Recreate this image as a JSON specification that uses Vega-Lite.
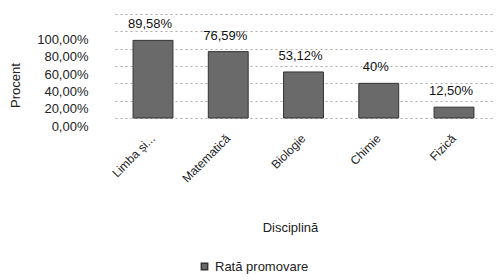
{
  "$schema": "https://vega.github.io/schema/vega-lite/v6.json",
  "width": 377,
  "height": 104,
  "autosize": "none",
  "padding": {"left": 115, "top": 14, "right": 11, "bottom": 162},
  "background": "white",
  "config": {
    "view": {"stroke": null},
    "font": "Liberation Sans",
    "text": {"font": "Liberation Sans"}
  },
  "data": {
    "values": [
      {"disciplina": "Limba și...", "rata": 0.8958, "eticheta": "89,58%", "serie": "Rată promovare"},
      {"disciplina": "Matematică", "rata": 0.7659, "eticheta": "76,59%", "serie": "Rată promovare"},
      {"disciplina": "Biologie", "rata": 0.5312, "eticheta": "53,12%", "serie": "Rată promovare"},
      {"disciplina": "Chimie", "rata": 0.40, "eticheta": "40%", "serie": "Rată promovare"},
      {"disciplina": "Fizică", "rata": 0.125, "eticheta": "12,50%", "serie": "Rată promovare"}
    ]
  },
  "encoding": {
    "x": {
      "field": "disciplina",
      "type": "nominal",
      "sort": null,
      "scale": {"paddingInner": 0.47, "paddingOuter": 0.24},
      "axis": {
        "title": "Disciplină",
        "titleFont": "Liberation Sans",
        "titleFontSize": 13,
        "titleFontWeight": "normal",
        "titleColor": "#222",
        "titleX": 175,
        "titleY": 109,
        "titleAlign": "center",
        "titleBaseline": "middle",
        "labelAngle": -45,
        "labelAlign": "right",
        "labelBaseline": "middle",
        "labelPadding": 18,
        "labelFontSize": 12,
        "labelColor": "#222",
        "labelFont": "Liberation Sans",
        "domain": false,
        "ticks": false
      }
    },
    "y": {
      "field": "rata",
      "type": "quantitative",
      "scale": {"domain": [0, 1.2], "nice": false},
      "axis": {
        "title": "Procent",
        "titleFont": "Liberation Sans",
        "titleFontSize": 13,
        "titleFontWeight": "normal",
        "titleColor": "#222",
        "titleX": -100,
        "titleY": 71,
        "titleAngle": -90,
        "titleAlign": "center",
        "titleBaseline": "middle",
        "values": [0, 0.2, 0.4, 0.6, 0.8, 1.0, 1.2],
        "labelExpr": "datum.value > 1.01 ? '' : replace(format(datum.value, '.2%'), '.', ',')",
        "labelPadding": 27,
        "labelOffset": 8,
        "labelFontSize": 13,
        "labelColor": "#222",
        "labelFont": "Liberation Sans",
        "domain": false,
        "ticks": false,
        "grid": true,
        "gridColor": "#aaa",
        "gridDash": [2, 3],
        "gridWidth": 1
      }
    }
  },
  "layer": [
    {
      "mark": {"type": "bar", "stroke": "#333", "strokeWidth": 1},
      "encoding": {
        "color": {
          "field": "serie",
          "type": "nominal",
          "scale": {"range": ["#6a6a6a"]},
          "legend": {
            "title": null,
            "orient": "none",
            "legendX": 83,
            "legendY": 246,
            "symbolType": "square",
            "symbolSize": 40,
            "labelFontSize": 13,
            "labelColor": "#222",
            "labelFont": "Liberation Sans"
          }
        }
      }
    },
    {
      "mark": {"type": "text", "dy": -16, "xOffset": -3, "baseline": "middle", "fontSize": 13, "color": "#111"},
      "encoding": {
        "text": {"field": "eticheta"}
      }
    }
  ]
}
